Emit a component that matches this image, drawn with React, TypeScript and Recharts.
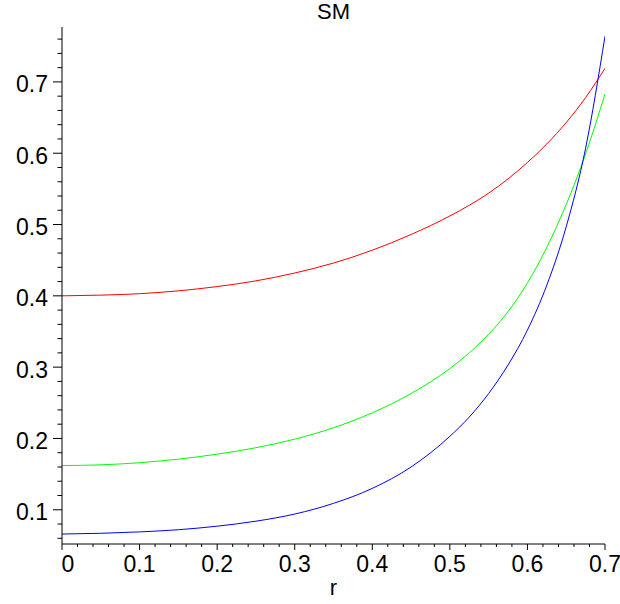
import React from "react"
import { LineChart, Line, XAxis, YAxis } from "recharts"

const rValues = [0, 0.05, 0.1, 0.15, 0.2, 0.25, 0.3, 0.35, 0.4, 0.45, 0.5, 0.525, 0.55, 0.575, 0.6, 0.625, 0.65, 0.675, 0.7]
const redValues = [0.4, 0.401, 0.403, 0.407, 0.413, 0.421, 0.432, 0.446, 0.464, 0.486, 0.512, 0.527, 0.544, 0.564, 0.587, 0.613, 0.643, 0.678, 0.719]
const greenValues = [0.162, 0.163, 0.166, 0.171, 0.178, 0.187, 0.199, 0.215, 0.236, 0.263, 0.298, 0.32, 0.346, 0.378, 0.418, 0.468, 0.528, 0.599, 0.683]
const blueValues = [0.066, 0.067, 0.069, 0.072, 0.077, 0.084, 0.094, 0.109, 0.13, 0.16, 0.203, 0.23, 0.263, 0.303, 0.352, 0.415, 0.497, 0.607, 0.764]

const xTicks = [
  0, 0.02, 0.04, 0.06, 0.08, 0.1, 0.12, 0.14, 0.16, 0.18, 0.2, 0.22, 0.24, 0.26, 0.28, 0.3, 0.32, 0.34,
  0.36, 0.38, 0.4, 0.42, 0.44, 0.46, 0.48, 0.5, 0.52, 0.54, 0.56, 0.58, 0.6, 0.62, 0.64, 0.66, 0.68, 0.7,
]
const yTicks = [
  0.06, 0.08, 0.1, 0.12, 0.14, 0.16, 0.18, 0.2, 0.22, 0.24, 0.26, 0.28, 0.3, 0.32, 0.34, 0.36, 0.38, 0.4,
  0.42, 0.44, 0.46, 0.48, 0.5, 0.52, 0.54, 0.56, 0.58, 0.6, 0.62, 0.64, 0.66, 0.68, 0.7, 0.72, 0.74, 0.76,
]

const data = rValues.map((r, i) => ({ r, red: redValues[i], green: greenValues[i], blue: blueValues[i] }))

const FONT = "'Liberation Sans', Arial, Helvetica, sans-serif"

const isMajor = (v: number) => Math.abs(v * 10 - Math.round(v * 10)) < 1e-6
const fmt = (v: number) => (v === 0 ? "0" : (Math.round(v * 10) / 10).toString())

function XTick(props: any) {
  const { x, y, payload } = props
  const v = payload.value
  const major = isMajor(v)
  return (
    <g>
      <line x1={x} y1={y} x2={x} y2={y + (major ? 6 : 3)} stroke="#000" strokeWidth={1} />
      {major && (
        <text x={v === 0 ? x + 6 : x} y={y + 28} textAnchor="middle" fontSize={23} fontFamily={FONT} fill="#000">
          {fmt(v)}
        </text>
      )}
    </g>
  )
}

function YTick(props: any) {
  const { x, y, payload } = props
  const v = payload.value
  const major = isMajor(v)
  return (
    <g>
      <line x1={x - (major ? 9 : 4.5)} y1={y} x2={x} y2={y} stroke="#000" strokeWidth={1} />
      {major && (
        <text x={x - 14} y={y + 10.5} textAnchor="end" fontSize={23} fontFamily={FONT} fill="#000">
          {fmt(v)}
        </text>
      )}
    </g>
  )
}

export default function App() {
  return (
    <div style={{ position: "absolute", left: 0, top: 0, width: 620, height: 604, background: "#fff" }}>
      <div
        style={{
          position: "absolute", left: 0, top: 1, width: 667, textAlign: "center",
          fontFamily: FONT, fontSize: 22, lineHeight: "22px", color: "#000",
        }}
      >
        SM
      </div>
      <LineChart width={620} height={604} data={data} margin={{ top: 27, right: 15, bottom: 59, left: 61 }}>
        <XAxis
          dataKey="r"
          type="number"
          domain={[0, 0.7]}
          ticks={xTicks}
          interval={0}
          height={1}
          tickSize={0}
          tickMargin={0}
          tickLine={false}
          stroke="#000"
          tick={<XTick />}
          allowDataOverflow
        />
        <YAxis
          type="number"
          domain={[0.052, 0.777]}
          ticks={yTicks}
          interval={0}
          width={1}
          tickSize={0}
          tickMargin={0}
          tickLine={false}
          stroke="#000"
          tick={<YTick />}
          allowDataOverflow
        />
        <Line dataKey="red" type="monotone" stroke="#ff0000" strokeWidth={1} dot={false} isAnimationActive={false} />
        <Line dataKey="green" type="monotone" stroke="#00ff00" strokeWidth={1} dot={false} isAnimationActive={false} />
        <Line dataKey="blue" type="monotone" stroke="#0000ff" strokeWidth={1} dot={false} isAnimationActive={false} />
      </LineChart>
      <div
        style={{
          position: "absolute", left: 0, top: 577, width: 667, textAlign: "center",
          fontFamily: FONT, fontSize: 22, lineHeight: "22px", color: "#000",
        }}
      >
        r
      </div>
    </div>
  )
}
